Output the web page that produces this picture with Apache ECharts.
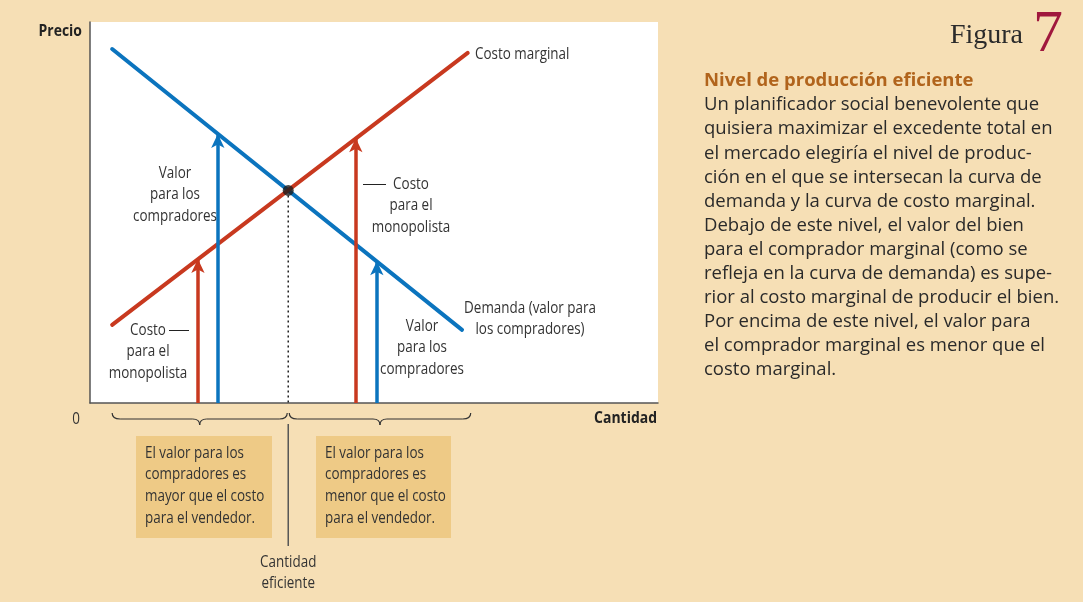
<!DOCTYPE html>
<html>
<head>
<meta charset="utf-8">
<script src="https://cdn.jsdelivr.net/npm/echarts@6/dist/echarts.min.js"></script>
<style>
html,body{margin:0;padding:0;background:#F6DFB5;}
#c{width:1083px;height:602px;}
</style>
</head>
<body>
<div id="c"></div>
<script>
// ---- data (arbitrary units 0..100) ----
const demandX = [3.9, 65.5];
const demandY = [92.9, 19.2];
const costX = [3.9, 66.5];
const costY = [20.5, 91.9];
const equilibrium = [34.9, 55.8];
const valueArrowX = [22.5, 50.5];
const valueArrowY = [70.6, 37.2];
const costArrowX = [19.0, 46.8];
const costArrowY = [37.8, 69.5];

const BLUE = '#0B74BE';
const RED = '#C8391F';
const FONT = 'Open Sans';
const TXT = '#333';

const chart = echarts.init(document.getElementById('c'), null, {renderer: 'canvas'});

function arrowLines(xs, ys) {
  return xs.map((x, i) => [{coord: [x, 0]}, {coord: [x, ys[i]]}]);
}

chart.setOption({
  backgroundColor: '#F6DFB5',
  animation: false,
  grid: {left: 90, top: 22, width: 568, height: 381, show: true, backgroundColor: '#fff', borderWidth: 0},
  xAxis: {type: 'value', min: 0, max: 100, axisLine: {show: true, onZero: false, lineStyle: {color: '#555', width: 1.5}},
    axisTick: {show: false}, axisLabel: {show: false}, splitLine: {show: false}},
  yAxis: {type: 'value', min: 0, max: 100, axisLine: {show: true, onZero: false, lineStyle: {color: '#555', width: 1.5}},
    axisTick: {show: false}, axisLabel: {show: false}, splitLine: {show: false}},
  series: [
    {
      type: 'line', name: 'Demanda', silent: true, symbol: 'none', z: 3,
      data: demandX.map((x, i) => [x, demandY[i]]),
      lineStyle: {color: BLUE, width: 4, cap: 'round'},
      markLine: {
        silent: true, symbol: ['none', 'arrow'], symbolSize: [10, 14],
        label: {show: false},
        lineStyle: {color: BLUE, width: 3.5, type: 'solid'},
        data: arrowLines(valueArrowX, valueArrowY)
      }
    },
    {
      type: 'line', name: 'Costo marginal', silent: true, symbol: 'none', z: 3,
      data: costX.map((x, i) => [x, costY[i]]),
      lineStyle: {color: RED, width: 4, cap: 'round'},
      markLine: {
        silent: true, symbol: ['none', 'arrow'], symbolSize: [10, 14],
        label: {show: false},
        lineStyle: {color: RED, width: 3.5, type: 'solid'},
        data: arrowLines(costArrowX, costArrowY)
      }
    },
    {
      type: 'line', name: 'eq-drop', silent: true, symbol: 'none', z: 2,
      data: [[equilibrium[0], equilibrium[1]], [equilibrium[0], 0]],
      lineStyle: {color: '#222', width: 1.5, type: [2, 3]}
    },
    {
      type: 'scatter', silent: true, z: 5,
      data: [equilibrium], symbolSize: 11,
      itemStyle: {color: '#1e1e1e'}
    }
  ]
});

const px = (x, y) => chart.convertToPixel({gridIndex: 0}, [x, y]);
const eqPx = px(equilibrium[0], 0);
const axisY = eqPx[1];
const leftStart = px(demandX[0], 0)[0];
const rightEnd = px(costX[1], 0)[0] + 3;
const eqX = eqPx[0];

const BR = {fill: null, stroke: '#333', lineWidth: 1.2};
function brace(x1, x2) {
  const y0 = axisY + 10, y1 = axisY + 16, y2 = axisY + 22;
  const m = (x1 + x2) / 2;
  const q = (a, b, c, d, e, f) => ({type: 'bezierCurve', silent: true, shape: {x1: a, y1: b, x2: c, y2: d, cpx1: e, cpy1: f}, style: BR});
  const l = (a, b, c, d) => ({type: 'line', silent: true, shape: {x1: a, y1: b, x2: c, y2: d}, style: BR});
  return [
    q(x1, y0, x1 + 8, y1, x1, y1),
    l(x1 + 8, y1, m - 7, y1),
    q(m - 7, y1, m, y2, m, y1),
    q(m, y2, m + 7, y1, m, y1),
    l(m + 7, y1, x2 - 8, y1),
    q(x2 - 8, y1, x2, y0, x2, y1)
  ];
}

// condensed-looking label: Open Sans scaled horizontally around its anchor
function txt(x, y, text, opts) {
  opts = opts || {};
  return {type: 'text', silent: true, z: 10, x: x, y: y, scaleX: opts.sx !== undefined ? opts.sx : 0.79,
    style: Object.assign({
      x: 0, y: 0, text: text, fill: TXT, font: (opts.weight || 'normal') + ' ' + (opts.size || 17) + 'px "' + FONT + '"',
      textAlign: opts.align || 'left', textVerticalAlign: 'top', lineHeight: opts.lh || 21.5
    }, opts.style || {})};
}

const body = [
  'Un planificador social benevolente que',
  'quisiera maximizar el excedente total en',
  'el mercado elegiría el nivel de produc-',
  'ción en el que se intersecan la curva de',
  'demanda y la curva de costo marginal.',
  'Debajo de este nivel, el valor del bien',
  'para el comprador marginal (como se',
  'refleja en la curva de demanda) es supe-',
  'rior al costo marginal de producir el bien.',
  'Por encima de este nivel, el valor para',
  'el comprador marginal es menor que el',
  'costo marginal.'
].join('\n');

chart.setOption({
  graphic: [
    // axis texts
    txt(82, 21, 'Precio', {weight: 'bold', size: 15.5, sx: 0.9, align: 'right', style: {fill: '#222'}}),
    txt(76, 408, '0', {align: 'center'}),
    txt(657, 408, 'Cantidad', {weight: 'bold', size: 15.5, sx: 0.9, align: 'right', style: {fill: '#222'}}),
    // curve labels
    txt(475, 43, 'Costo marginal'),
    txt(530, 298, 'Demanda (valor para\nlos compradores)', {align: 'center', lh: 21}),
    txt(175, 162, 'Valor\npara los\ncompradores', {align: 'center'}),
    txt(422, 315, 'Valor\npara los\ncompradores', {align: 'center'}),
    txt(411, 173, 'Costo\npara el\nmonopolista', {align: 'center'}),
    txt(148, 319, 'Costo\npara el\nmonopolista', {align: 'center'}),
    {type: 'line', silent: true, shape: {x1: 363, y1: 184.5, x2: 386, y2: 184.5}, style: {stroke: '#222', lineWidth: 1}},
    {type: 'line', silent: true, shape: {x1: 169, y1: 330.5, x2: 189, y2: 330.5}, style: {stroke: '#222', lineWidth: 1}},
    // braces
    ...brace(leftStart, eqX - 1),
    ...brace(eqX + 1, rightEnd),
    // efficient quantity marker
    {type: 'line', silent: true, shape: {x1: eqX, y1: axisY + 21, x2: eqX, y2: axisY + 143}, style: {stroke: '#555', lineWidth: 1.5}},
    txt(eqX, 551, 'Cantidad\neficiente', {align: 'center'}),
    // boxes
    {type: 'rect', silent: true, shape: {x: 136, y: 436, width: 136, height: 102}, style: {fill: '#EECA86'}},
    {type: 'rect', silent: true, shape: {x: 316, y: 436, width: 135, height: 102}, style: {fill: '#EECA86'}},
    txt(145, 442, 'El valor para los\ncompradores es\nmayor que el costo\npara el vendedor.', {lh: 21.7}),
    txt(325, 442, 'El valor para los\ncompradores es\nmenor que el costo\npara el vendedor.', {lh: 21.7}),
    // right panel
    {type: 'text', silent: true, style: {x: 1023, y: 36, text: 'Figura', fill: '#2b2b2b', font: '28px "Liberation Serif"', textAlign: 'right', textVerticalAlign: 'middle'}},
    {type: 'text', silent: true, style: {x: 1033, y: 35, text: '7', fill: '#A0183D', font: '60px "Liberation Serif"', textAlign: 'left', textVerticalAlign: 'middle'}},
    txt(704, 69, 'Nivel de producción eficiente', {weight: 'bold', size: 18.5, sx: 1, lh: 24, style: {fill: '#B1641C'}}),
    txt(704, 93, body, {size: 18.5, sx: 1, lh: 24.1, style: {fill: '#2a2a2a'}})
  ]
});
</script>
</body>
</html>
